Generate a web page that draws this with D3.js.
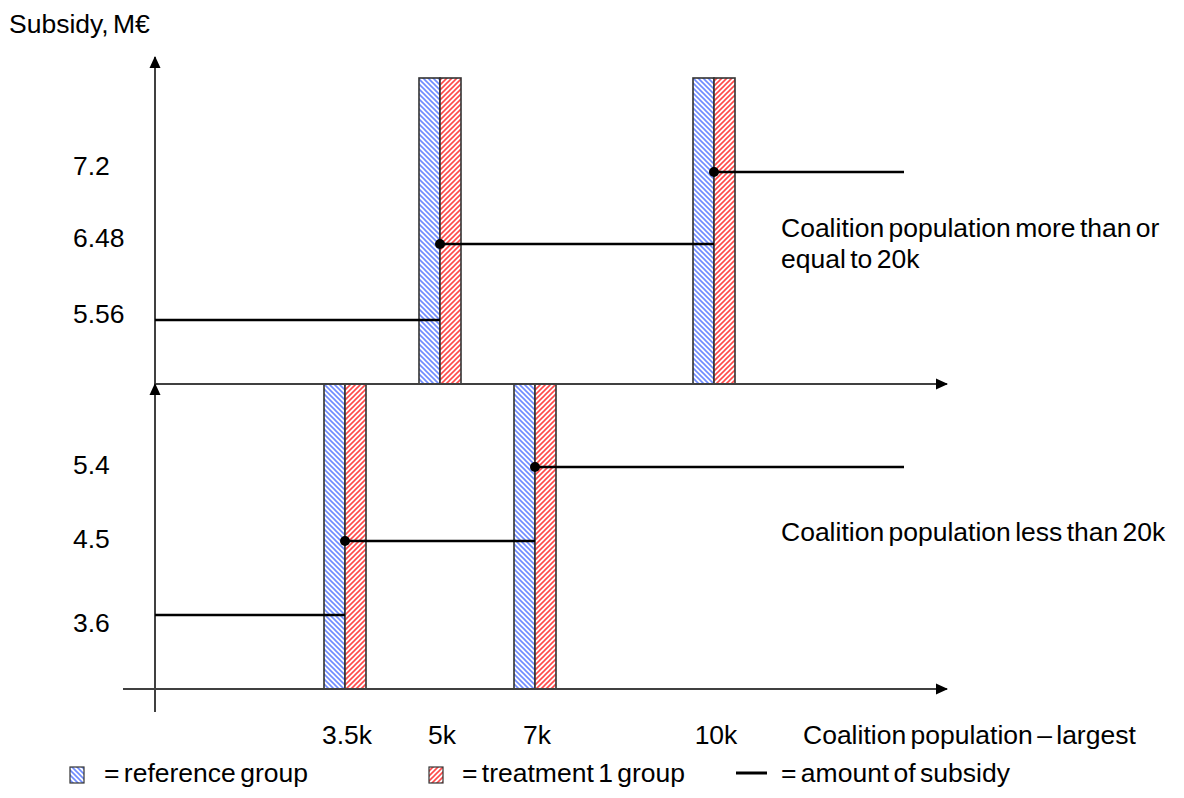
<!DOCTYPE html>
<html>
<head>
<meta charset="utf-8">
<script src="https://cdn.jsdelivr.net/npm/d3@7"></script>
<style>
  html, body { margin: 0; padding: 0; background: #ffffff; }
  svg { display: block; }
  text { font-family: "Liberation Sans", Arial, sans-serif; fill: #000; }
</style>
</head>
<body>
<svg id="chart" width="1184" height="798"></svg>
<script>
// ---------------- DATA ----------------
const populationValues = [3.5, 5, 7, 10];            // coalition population (thousands)
const populationLabels = ["3.5k", "5k", "7k", "10k"];

// Upper panel: coalition population >= 20k
const upperThresholds = [5, 10];                     // bars at these populations
const upperSubsidy = [5.56, 6.48, 7.2];             // subsidy levels (M€)
const upperTickLabels = ["7.2", "6.48", "5.56"];

// Lower panel: coalition population < 20k
const lowerThresholds = [3.5, 7];
const lowerSubsidy = [3.6, 4.5, 5.4];
const lowerTickLabels = ["5.4", "4.5", "3.6"];

const yTitle = "Subsidy, M€";
const xTitle = "Coalition population – largest";
const upperNote = ["Coalition population more than or", "equal to 20k"];
const lowerNote = ["Coalition population less than 20k"];
const legendLabels = ["= reference group", "= treatment 1 group", "= amount of subsidy"];

// ---------------- LAYOUT ----------------
const svg = d3.select("#chart");
const axisX = 155;
const upperTop = 57, upperAxisY = 384, upperBarTop = 78;
const lowerAxisY = 689, lowerAxisBottom = 712, lowerAxisStart = 123;
const axisEnd = 947, lineEnd = 904;
const barHalf = 21;
const fontSize = 26.5;
const wordSp = -3;
const lowerLabelNudge = { "3.6": 10 };   // label placement tweak (layout only)

// scales (schematic: piecewise linear)
const x = d3.scaleLinear().domain(populationValues).range([345, 440, 535, 714]);
const yUpper = d3.scaleLinear().domain(upperSubsidy).range([320, 244, 172]);
const yLower = d3.scaleLinear().domain(lowerSubsidy).range([615, 541, 467]);

// ---------------- PATTERNS / MARKERS ----------------
const defs = svg.append("defs");
function hatch(id, color, dir) {
  const p = defs.append("pattern").attr("id", id)
    .attr("patternUnits", "userSpaceOnUse").attr("width", 5).attr("height", 5);
  p.append("rect").attr("width", 5).attr("height", 5).attr("fill", "#fff");
  const d = dir === "back"
    ? "M-1,-1 L6,6 M-1,4 L1,6 M4,-1 L6,1"
    : "M-1,6 L6,-1 M-1,1 L1,-1 M4,6 L6,4";
  p.append("path").attr("d", d).attr("stroke", color).attr("stroke-width", 1.6);
}
hatch("hatchBlue", "#6f8cff", "back");
hatch("hatchRed", "#ff4a4a", "fwd");

defs.append("marker").attr("id", "arrow")
  .attr("viewBox", "0 0 12 12").attr("refX", 11).attr("refY", 6)
  .attr("markerWidth", 12).attr("markerHeight", 12)
  .attr("markerUnits", "userSpaceOnUse").attr("orient", "auto")
  .append("path").attr("d", "M0,0.5 L12,6 L0,11.5 Z").attr("fill", "#000");

// ---------------- AXES ----------------
const axisColor = "#404040";
function axisLine(x1, y1, x2, y2) {
  svg.append("line").attr("x1", x1).attr("y1", y1).attr("x2", x2).attr("y2", y2)
    .attr("stroke", axisColor).attr("stroke-width", 2).attr("marker-end", "url(#arrow)");
}

// ---------------- BARS ----------------
function bars(thresholds, y0, y1) {
  const g = svg.append("g");
  g.selectAll("rect.ref").data(thresholds).join("rect").attr("class", "ref")
    .attr("x", d => x(d) - barHalf).attr("y", y0).attr("width", barHalf).attr("height", y1 - y0)
    .attr("fill", "url(#hatchBlue)").attr("stroke", "#333").attr("stroke-width", 1.6);
  g.selectAll("rect.trt").data(thresholds).join("rect").attr("class", "trt")
    .attr("x", d => x(d)).attr("y", y0).attr("width", barHalf).attr("height", y1 - y0)
    .attr("fill", "url(#hatchRed)").attr("stroke", "#333").attr("stroke-width", 1.6);
}
bars(upperThresholds, upperBarTop, upperAxisY);
bars(lowerThresholds, upperAxisY, lowerAxisY);

// axes drawn over bar bottoms
axisLine(axisX, upperAxisY, axisX, upperTop);
axisLine(axisX, upperAxisY, axisEnd, upperAxisY);
axisLine(axisX, lowerAxisBottom, axisX, upperAxisY);
axisLine(lowerAxisStart, lowerAxisY, axisEnd, lowerAxisY);

// ---------------- SUBSIDY STEP LINES ----------------
function steps(thresholds, levels, y) {
  const segs = levels.map((v, i) => ({
    x0: i === 0 ? axisX : x(thresholds[i - 1]),
    x1: i === thresholds.length ? lineEnd : x(thresholds[i]),
    y: y(v), dot: i > 0
  }));
  const g = svg.append("g");
  g.selectAll("line").data(segs).join("line")
    .attr("x1", d => d.x0).attr("x2", d => d.x1)
    .attr("y1", d => d.y).attr("y2", d => d.y)
    .attr("stroke", "#000").attr("stroke-width", 2.5);
  g.selectAll("circle").data(segs.filter(d => d.dot)).join("circle")
    .attr("cx", d => d.x0).attr("cy", d => d.y).attr("r", 5).attr("fill", "#000");
}
steps(upperThresholds, upperSubsidy, yUpper);
steps(lowerThresholds, lowerSubsidy, yLower);

// ---------------- TICK LABELS ----------------
const labelX = 73;
svg.append("g").selectAll("text").data(upperTickLabels).join("text")
  .attr("x", labelX).attr("y", d => yUpper(+d) + 3)
  .attr("font-size", fontSize).text(d => d);
svg.append("g").selectAll("text").data(lowerTickLabels).join("text")
  .attr("x", labelX).attr("y", d => yLower(+d) + 7 + (lowerLabelNudge[d] || 0))
  .attr("font-size", fontSize).text(d => d);

svg.append("g").selectAll("text").data(populationLabels).join("text")
  .attr("x", (d, i) => x(populationValues[i]) + 2).attr("y", 744)
  .attr("text-anchor", "middle").attr("font-size", fontSize).text(d => d);

// ---------------- TITLES / NOTES ----------------
svg.append("text").attr("x", 9).attr("y", 33).attr("font-size", fontSize)
  .attr("word-spacing", wordSp).text(yTitle);
svg.append("text").attr("x", 803).attr("y", 744).attr("font-size", fontSize)
  .attr("word-spacing", wordSp).text(xTitle);

svg.append("g").selectAll("text").data(upperNote).join("text")
  .attr("x", 781).attr("y", (d, i) => 237 + i * 31)
  .attr("font-size", fontSize).attr("word-spacing", wordSp).text(d => d);
svg.append("g").selectAll("text").data(lowerNote).join("text")
  .attr("x", 781).attr("y", 541)
  .attr("font-size", fontSize).attr("word-spacing", wordSp).text(d => d);

// ---------------- LEGEND ----------------
const legY = 782;
const leg = svg.append("g");
leg.append("rect").attr("x", 70).attr("y", legY - 15).attr("width", 14).attr("height", 16)
  .attr("fill", "url(#hatchBlue)").attr("stroke", "#333").attr("stroke-width", 1.2);
leg.append("text").attr("x", 104).attr("y", legY).attr("font-size", fontSize)
  .attr("word-spacing", wordSp).text(legendLabels[0]);
leg.append("rect").attr("x", 429).attr("y", legY - 15).attr("width", 14).attr("height", 16)
  .attr("fill", "url(#hatchRed)").attr("stroke", "#333").attr("stroke-width", 1.2);
leg.append("text").attr("x", 462).attr("y", legY).attr("font-size", fontSize)
  .attr("word-spacing", wordSp).text(legendLabels[1]);
leg.append("line").attr("x1", 736).attr("x2", 767).attr("y1", legY - 9).attr("y2", legY - 9)
  .attr("stroke", "#000").attr("stroke-width", 3);
leg.append("text").attr("x", 781).attr("y", legY).attr("font-size", fontSize)
  .attr("word-spacing", wordSp).text(legendLabels[2]);
</script>
</body>
</html>
